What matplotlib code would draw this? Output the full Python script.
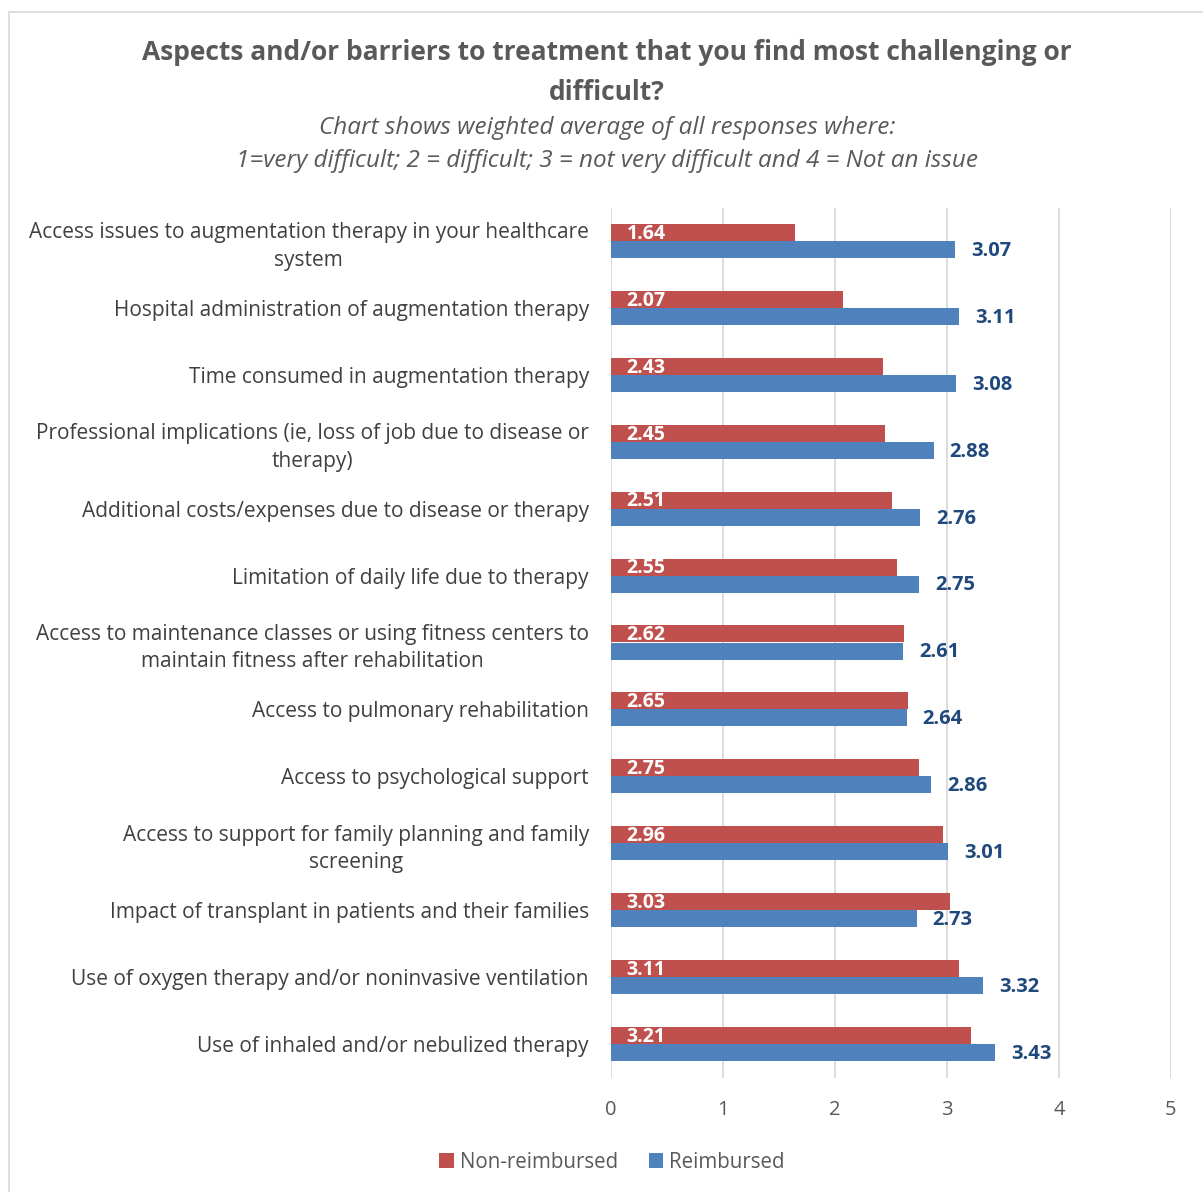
import matplotlib
matplotlib.use("Agg")
import matplotlib.pyplot as plt
from matplotlib.patches import Rectangle
import numpy as np

plt.rcParams['font.family'] = ['Open Sans', 'DejaVu Sans']

categories = [
    "Access issues to augmentation therapy in your healthcare\nsystem",
    "Hospital administration of augmentation therapy",
    "Time consumed in augmentation therapy",
    "Professional implications (ie, loss of job due to disease or\ntherapy)",
    "Additional costs/expenses due to disease or therapy",
    "Limitation of daily life due to therapy",
    "Access to maintenance classes or using fitness centers to\nmaintain fitness after rehabilitation",
    "Access to pulmonary rehabilitation",
    "Access to psychological support",
    "Access to support for family planning and family\nscreening",
    "Impact of transplant in patients and their families",
    "Use of oxygen therapy and/or noninvasive ventilation",
    "Use of inhaled and/or nebulized therapy",
]
non_reimbursed = [1.64, 2.07, 2.43, 2.45, 2.51, 2.55, 2.62, 2.65, 2.75, 2.96, 3.03, 3.11, 3.21]
reimbursed = [3.07, 3.11, 3.08, 2.88, 2.76, 2.75, 2.61, 2.64, 2.86, 3.01, 2.73, 3.32, 3.43]
x_ticks = [0, 1, 2, 3, 4, 5]

RED = "#C0504D"
BLUE = "#4F81BD"
LABEL_BLUE = "#1F497D"
TEXT = "#595959"

W, H = 1203, 1192
fig = plt.figure(figsize=(W / 100, H / 100), dpi=100)
fig.patch.set_facecolor("white")

# chart area frame
fig.patches.append(Rectangle((9 / W, -0.05), 1.2, (H - 12) / H + 0.05,
                             transform=fig.transFigure, fill=False,
                             edgecolor="#D9D9D9", linewidth=1.2))

ax = fig.add_axes([611 / W, 114.5 / H, 560 / W, 870 / H])

y = np.arange(len(categories))
bh = 0.255
ax.barh(y - bh / 2, non_reimbursed, height=bh, color=RED, label="Non-reimbursed", zorder=3)
ax.barh(y + bh / 2, reimbursed, height=bh, color=BLUE, label="Reimbursed", zorder=3)

for yi, v in zip(y, non_reimbursed):
    ax.text(0.14, yi - bh / 2 + 0.02, f"{v:.2f}", color="white", fontweight="bold",
            fontsize=14, va="center", ha="left", zorder=4)
for yi, v in zip(y, reimbursed):
    ax.annotate(f"{v:.2f}", (v, yi + bh / 2 + 0.02), xytext=(11.5, 0),
                textcoords="offset points", color=LABEL_BLUE, fontweight="bold",
                fontsize=14.5, va="center", ha="left", zorder=4)

ax.set_xlim(0, 5)
ax.set_ylim(len(categories) - 0.5, -0.5)
ax.set_xticks(x_ticks)
ax.set_xticklabels([str(t) for t in x_ticks], fontsize=14.5, color=TEXT)
ax.set_yticks(y)
ax.set_yticklabels(categories, fontsize=15, color="#404040",
                   multialignment="center", linespacing=1.4)
ax.tick_params(axis="both", length=0)
ax.tick_params(axis="x", pad=16)
ax.tick_params(axis="y", pad=16)
ax.grid(axis="x", color="#D9D9D9", linewidth=1.3, zorder=0)
for s in ax.spines.values():
    s.set_visible(False)

fig.text(607 / W, 1 - 53 / H, "Aspects and/or barriers to treatment that you find most challenging or",
         ha="center", va="center", fontsize=19, fontweight="bold", color=TEXT)
fig.text(607 / W, 1 - 92 / H, "difficult?", ha="center", va="center",
         fontsize=19, fontweight="bold", color=TEXT)
fig.text(607 / W, 1 - 128 / H, "Chart shows weighted average of all responses where:",
         ha="center", va="center", fontsize=17.5, style="italic", color=TEXT)
fig.text(607 / W, 1 - 161 / H,
         "1=very difficult; 2 = difficult; 3 = not very difficult and 4 = Not an issue",
         ha="center", va="center", fontsize=17.5, style="italic", color=TEXT)

handles, labels = ax.get_legend_handles_labels()
fig.legend(handles, labels, loc="center", bbox_to_anchor=(612 / W, 1 - 1162 / H),
           ncol=2, frameon=False, fontsize=14.8, handlelength=0.7, handleheight=0.7,
           handletextpad=0.3, columnspacing=1.5, labelcolor=TEXT)

fig.savefig("out.png", dpi=100, facecolor="white")
